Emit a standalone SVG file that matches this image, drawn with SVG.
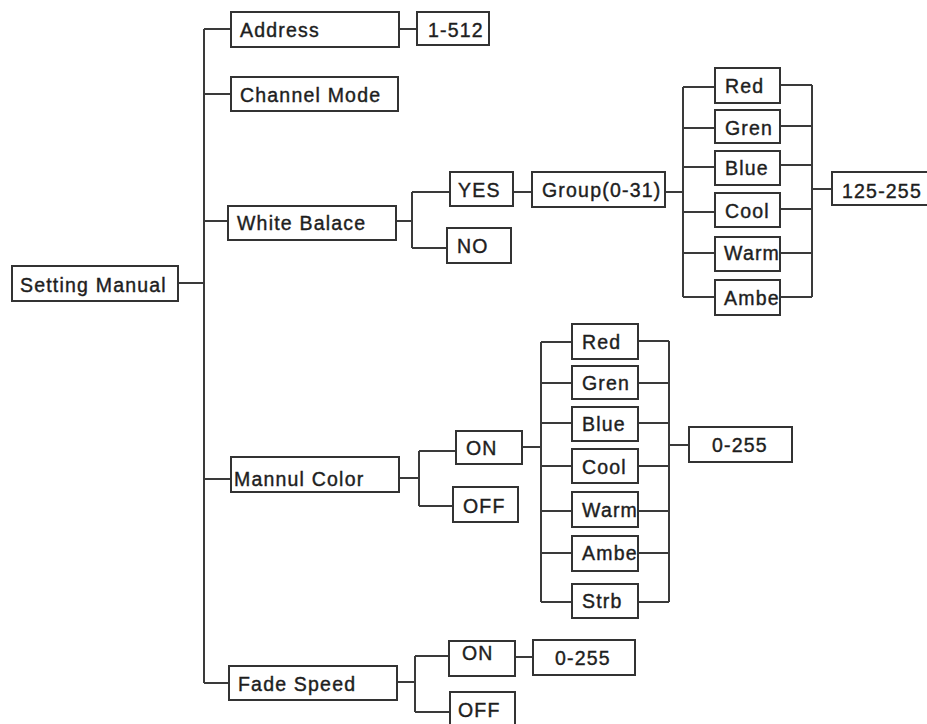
<svg xmlns="http://www.w3.org/2000/svg" width="927" height="724" viewBox="0 0 927 724">
<style>
  .c { fill: none; stroke: #3a3a3a; stroke-width: 2; }
  .b { fill: #ffffff; stroke: #333333; stroke-width: 2; }
  .t { font-family: "Liberation Sans", Arial, sans-serif; font-size: 19.5px; letter-spacing: 1.2px; fill: #1e1e1e; stroke: #1e1e1e; stroke-width: 0.4; }
</style>
<rect width="927" height="724" fill="#ffffff"/>
<g id="connectors" class="c">
  <path d="M204 29 V683"/>
  <path d="M204 29 H231 M204 94 H231 M204 221 H228 M178 283 H204 M204 479 H231 M204 683 H229"/>
  <path d="M399 29 H417"/>
  <path d="M396 221 H412 M412 192 V248 M412 192 H450 M412 248 H447"/>
  <path d="M513 192 H532"/>
  <path d="M665 192 H683 M683 87 V297 M683 87 H715 M683 128 H715 M683 167 H715 M683 212 H715 M683 253 H715 M683 297 H715"/>
  <path d="M780 85 H812 M780 126 H812 M780 165 H812 M780 209 H812 M780 253 H812 M780 297 H812 M812 85 V297 M812 189 H832"/>
  <path d="M399 478 H419 M419 451 V506 M419 451 H456 M419 506 H453"/>
  <path d="M522 447 H541 M541 342 V602 M541 342 H572 M541 383 H572 M541 423 H572 M541 466 H572 M541 511 H572 M541 553 H572 M541 602 H572"/>
  <path d="M638 341 H669 M638 383 H669 M638 423 H669 M638 466 H669 M638 511 H669 M638 553 H669 M638 602 H669 M669 341 V602 M669 445 H689"/>
  <path d="M397 682 H415 M415 656 V712 M415 656 H449 M415 712 H450 M515 657 H533"/>
</g>
<g id="setting-manual"><rect class="b" x="12" y="266" width="166" height="35"/><text class="t" x="20" y="292">Setting Manual</text></g>
<g id="address"><rect class="b" x="231" y="12" width="168" height="35"/><text class="t" x="240" y="37">Address</text></g>
<g id="address-range"><rect class="b" x="417" y="12" width="72" height="33"/><text class="t" x="428" y="37">1-512</text></g>
<g id="channel-mode"><rect class="b" x="231" y="77" width="167" height="34"/><text class="t" x="240" y="102">Channel Mode</text></g>
<g id="white-balace"><rect class="b" x="228" y="206" width="168" height="34"/><text class="t" x="237" y="230">White Balace</text></g>
<g id="wb-yes"><rect class="b" x="450" y="172" width="63" height="34"/><text class="t" x="458" y="197">YES</text></g>
<g id="wb-no"><rect class="b" x="447" y="228" width="64" height="35"/><text class="t" x="457" y="253">NO</text></g>
<g id="group"><rect class="b" x="532" y="172" width="133" height="35"/><text class="t" x="542" y="197">Group(0-31)</text></g>
<g id="wb-red"><rect class="b" x="715" y="68" width="65" height="35"/><text class="t" x="725" y="93">Red</text></g>
<g id="wb-gren"><rect class="b" x="715" y="110" width="65" height="33"/><text class="t" x="725" y="135">Gren</text></g>
<g id="wb-blue"><rect class="b" x="715" y="151" width="65" height="34"/><text class="t" x="725" y="175">Blue</text></g>
<g id="wb-cool"><rect class="b" x="715" y="193" width="65" height="34"/><text class="t" x="725" y="218">Cool</text></g>
<g id="wb-warm"><rect class="b" x="715" y="237" width="65" height="34"/><text class="t" x="724" y="260">Warm</text></g>
<g id="wb-ambe"><rect class="b" x="715" y="280" width="65" height="35"/><text class="t" x="724" y="305">Ambe</text></g>
<g id="wb-range"><rect class="b" x="832" y="172" width="102" height="33"/><text class="t" x="842" y="198">125-255</text></g>
<g id="mannul-color"><rect class="b" x="231" y="457" width="168" height="35"/><text class="t" x="234" y="486">Mannul Color</text></g>
<g id="mc-on"><rect class="b" x="456" y="431" width="66" height="33"/><text class="t" x="466" y="455">ON</text></g>
<g id="mc-off"><rect class="b" x="453" y="487" width="65" height="35"/><text class="t" x="463" y="513">OFF</text></g>
<g id="mc-red"><rect class="b" x="572" y="324" width="66" height="35"/><text class="t" x="582" y="349">Red</text></g>
<g id="mc-gren"><rect class="b" x="572" y="366" width="66" height="33"/><text class="t" x="582" y="390">Gren</text></g>
<g id="mc-blue"><rect class="b" x="572" y="407" width="66" height="34"/><text class="t" x="582" y="431">Blue</text></g>
<g id="mc-cool"><rect class="b" x="572" y="449" width="66" height="34"/><text class="t" x="582" y="474">Cool</text></g>
<g id="mc-warm"><rect class="b" x="572" y="492" width="66" height="35"/><text class="t" x="582" y="517">Warm</text></g>
<g id="mc-ambe"><rect class="b" x="572" y="536" width="66" height="35"/><text class="t" x="582" y="560">Ambe</text></g>
<g id="mc-strb"><rect class="b" x="572" y="584" width="66" height="34"/><text class="t" x="582" y="608">Strb</text></g>
<g id="mc-range"><rect class="b" x="689" y="427" width="103" height="35"/><text class="t" x="712" y="452">0-255</text></g>
<g id="fade-speed"><rect class="b" x="229" y="666" width="168" height="34"/><text class="t" x="238" y="691">Fade Speed</text></g>
<g id="fs-on"><rect class="b" x="449" y="641" width="66" height="35"/><text class="t" x="462" y="660">ON</text></g>
<g id="fs-range"><rect class="b" x="533" y="640" width="102" height="35"/><text class="t" x="555" y="665">0-255</text></g>
<g id="fs-off"><rect class="b" x="450" y="692" width="65" height="40"/><text class="t" x="458" y="717">OFF</text></g>
</svg>
